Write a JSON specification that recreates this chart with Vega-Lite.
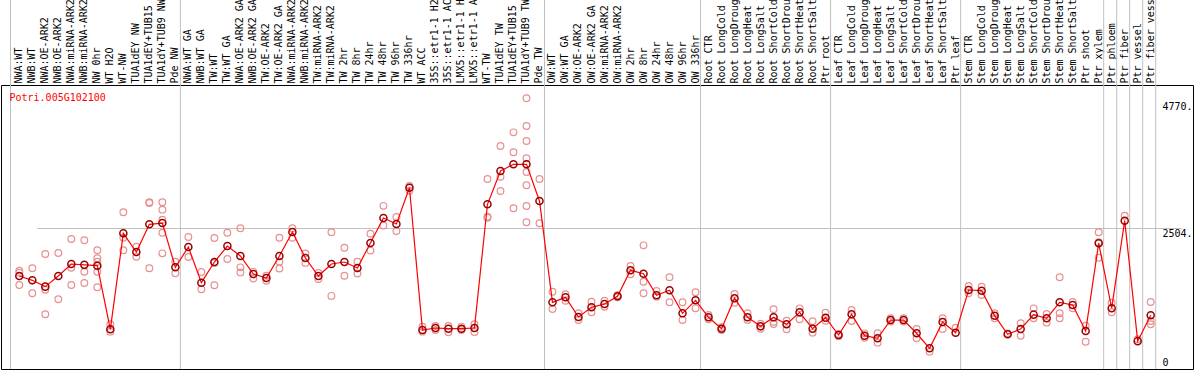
{
  "$schema": "https://vega.github.io/schema/vega-lite/v6.json",
  "width": 1192,
  "height": 284,
  "autosize": {"type": "none"},
  "padding": {"left": 1, "right": 1, "top": 85, "bottom": 1},
  "background": "white",
  "title": {"text": "Potri.005G102100", "orient": "bottom", "anchor": "start", "frame": "group", "offset": 0, "baseline": "top", "dx": 8.5, "dy": -277, "color": "#ff0000", "font": "DejaVu Sans Mono", "fontSize": 10, "fontWeight": "normal"},
  "config": {
    "view": {"stroke": "black", "strokeWidth": 1},
    "axis": {"labelFont": "DejaVu Sans Mono", "labelFontSize": 10, "labelColor": "black"}
  },
  "datasets": {
    "samples": [
      {"i": 1, "name": "NWA:WT", "v": 1645},
      {"i": 2, "name": "NWB:WT", "v": 1568},
      {"i": 3, "name": "NWA:OE-ARK2", "v": 1455},
      {"i": 4, "name": "NWB:OE-ARK2", "v": 1645},
      {"i": 5, "name": "NWA:miRNA-ARK2", "v": 1860},
      {"i": 6, "name": "NWB:miRNA-ARK2", "v": 1845},
      {"i": 7, "name": "NW 0hr", "v": 1830},
      {"i": 8, "name": "WT H2O", "v": 692},
      {"i": 9, "name": "WT-NW", "v": 2409},
      {"i": 10, "name": "TUA1dEY NW", "v": 2075},
      {"i": 11, "name": "TUA1dEY+TUB15", "v": 2570},
      {"i": 12, "name": "TUA1dY+TUB9 NW", "v": 2593},
      {"i": 13, "name": "Pde NW", "v": 1801},
      {"i": 14, "name": "NWA:WT GA", "v": 2164},
      {"i": 15, "name": "NWB:WT GA", "v": 1526},
      {"i": 16, "name": "TW:WT", "v": 1896},
      {"i": 17, "name": "TW:WT GA", "v": 2182},
      {"i": 18, "name": "NWA:OE-ARK2 GA", "v": 2003},
      {"i": 19, "name": "NWB:OE-ARK2 GA", "v": 1681},
      {"i": 20, "name": "TW:OE-ARK2", "v": 1610},
      {"i": 21, "name": "TW:OE-ARK2 GA", "v": 2003},
      {"i": 22, "name": "NWA:miRNA-ARK2 ", "v": 2432},
      {"i": 23, "name": "NWB:miRNA-ARK2 ", "v": 1967},
      {"i": 24, "name": "TW:miRNA-ARK2", "v": 1645},
      {"i": 25, "name": "TW:miRNA-ARK2 ", "v": 1860},
      {"i": 26, "name": "TW 2hr", "v": 1896},
      {"i": 27, "name": "TW 8hr", "v": 1789},
      {"i": 28, "name": "TW 24hr", "v": 2236},
      {"i": 29, "name": "TW 48hr", "v": 2683},
      {"i": 30, "name": "TW 96hr", "v": 2576},
      {"i": 31, "name": "TW 336hr", "v": 3225},
      {"i": 32, "name": "WT ACC", "v": 680},
      {"i": 33, "name": "35S::etr1-1 H2", "v": 715},
      {"i": 34, "name": "35S::etr1-1 AC", "v": 703},
      {"i": 35, "name": "LMX5::etr1-1 H", "v": 703},
      {"i": 36, "name": "LMX5::etr1-1 A", "v": 715},
      {"i": 37, "name": "WT-TW", "v": 2928},
      {"i": 38, "name": "TUA1dEY TW", "v": 3524},
      {"i": 39, "name": "TUA1dEY+TUB15 ", "v": 3643},
      {"i": 40, "name": "TUA1dY+TUB9 TW", "v": 3643},
      {"i": 41, "name": "Pde TW", "v": 2987},
      {"i": 42, "name": "OW:WT", "v": 1175},
      {"i": 43, "name": "OW:WT GA", "v": 1264},
      {"i": 44, "name": "OW:OE-ARK2", "v": 912},
      {"i": 45, "name": "OW:OE-ARK2 GA", "v": 1085},
      {"i": 46, "name": "OW:miRNA-ARK2", "v": 1145},
      {"i": 47, "name": "OW:miRNA-ARK2 ", "v": 1282},
      {"i": 48, "name": "OW 2hr", "v": 1747},
      {"i": 49, "name": "OW 8hr", "v": 1686},
      {"i": 50, "name": "OW 24hr", "v": 1300},
      {"i": 51, "name": "OW 48hr", "v": 1390},
      {"i": 52, "name": "OW 96hr", "v": 978},
      {"i": 53, "name": "OW 336hr", "v": 1211},
      {"i": 54, "name": "Root CTR", "v": 907},
      {"i": 55, "name": "Root LongCold", "v": 703},
      {"i": 56, "name": "Root LongDroug", "v": 1246},
      {"i": 57, "name": "Root LongHeat", "v": 907},
      {"i": 58, "name": "Root LongSalt", "v": 745},
      {"i": 59, "name": "Root ShortCold", "v": 907},
      {"i": 60, "name": "Root ShortDrou", "v": 781},
      {"i": 61, "name": "Root ShortHeat", "v": 996},
      {"i": 62, "name": "Root ShortSalt", "v": 703},
      {"i": 63, "name": "Ptr root", "v": 900},
      {"i": 64, "name": "Leaf CTR", "v": 590},
      {"i": 65, "name": "Leaf LongCold", "v": 960},
      {"i": 66, "name": "Leaf LongDroug", "v": 578},
      {"i": 67, "name": "Leaf LongHeat", "v": 531},
      {"i": 68, "name": "Leaf LongSalt", "v": 858},
      {"i": 69, "name": "Leaf ShortCold", "v": 858},
      {"i": 70, "name": "Leaf ShortDrou", "v": 621},
      {"i": 71, "name": "Leaf ShortHeat", "v": 352},
      {"i": 72, "name": "Leaf ShortSalt", "v": 823},
      {"i": 73, "name": "Ptr leaf", "v": 632},
      {"i": 74, "name": "Stem CTR", "v": 1395},
      {"i": 75, "name": "Stem LongCold", "v": 1383},
      {"i": 76, "name": "Stem LongDroug", "v": 936},
      {"i": 77, "name": "Stem LongHeat", "v": 602},
      {"i": 78, "name": "Stem LongSalt", "v": 698},
      {"i": 79, "name": "Stem ShortCold", "v": 954},
      {"i": 80, "name": "Stem ShortDrou", "v": 889},
      {"i": 81, "name": "Stem ShortHeat", "v": 1175},
      {"i": 82, "name": "Stem ShortSalt", "v": 1127},
      {"i": 83, "name": "Ptr shoot", "v": 662},
      {"i": 84, "name": "Ptr xylem", "v": 2232},
      {"i": 85, "name": "Ptr phloem", "v": 1070},
      {"i": 86, "name": "Ptr fiber", "v": 2635},
      {"i": 87, "name": "Ptr vessel", "v": 480},
      {"i": 88, "name": "Ptr fiber vess", "v": 945}
    ],
    "reps": [
      {"i": 1, "v": 1741}, {"i": 1, "v": 1705}, {"i": 1, "v": 1485},
      {"i": 2, "v": 1783}, {"i": 2, "v": 1336},
      {"i": 3, "v": 2039}, {"i": 3, "v": 1400}, {"i": 3, "v": 960},
      {"i": 4, "v": 2057}, {"i": 4, "v": 1229},
      {"i": 5, "v": 2307}, {"i": 5, "v": 1794}, {"i": 5, "v": 1485},
      {"i": 6, "v": 2284}, {"i": 6, "v": 1722}, {"i": 6, "v": 1520},
      {"i": 7, "v": 2105}, {"i": 7, "v": 1962}, {"i": 7, "v": 1901}, {"i": 7, "v": 1722}, {"i": 7, "v": 1443},
      {"i": 8, "v": 782}, {"i": 8, "v": 650},
      {"i": 9, "v": 2785}, {"i": 9, "v": 2331}, {"i": 9, "v": 2105},
      {"i": 10, "v": 2170}, {"i": 10, "v": 1991},
      {"i": 11, "v": 2964}, {"i": 11, "v": 2951}, {"i": 11, "v": 1783},
      {"i": 12, "v": 2964}, {"i": 12, "v": 2832}, {"i": 12, "v": 2653}, {"i": 12, "v": 2420}, {"i": 12, "v": 2051},
      {"i": 13, "v": 1901}, {"i": 13, "v": 1694},
      {"i": 14, "v": 2343}, {"i": 14, "v": 1985},
      {"i": 15, "v": 1717}, {"i": 15, "v": 1408},
      {"i": 16, "v": 2325}, {"i": 16, "v": 1880}, {"i": 16, "v": 1480},
      {"i": 17, "v": 2420}, {"i": 17, "v": 1950},
      {"i": 18, "v": 2500}, {"i": 18, "v": 1800}, {"i": 18, "v": 1710},
      {"i": 19, "v": 1720}, {"i": 19, "v": 1600},
      {"i": 20, "v": 1650}, {"i": 20, "v": 1560},
      {"i": 21, "v": 2330}, {"i": 21, "v": 1900}, {"i": 21, "v": 1780},
      {"i": 22, "v": 2500}, {"i": 22, "v": 2330},
      {"i": 23, "v": 2050}, {"i": 23, "v": 1880},
      {"i": 24, "v": 1700}, {"i": 24, "v": 1590},
      {"i": 25, "v": 2430}, {"i": 25, "v": 1290},
      {"i": 26, "v": 2150}, {"i": 26, "v": 1650},
      {"i": 27, "v": 1900}, {"i": 27, "v": 1690},
      {"i": 28, "v": 2400}, {"i": 28, "v": 2100},
      {"i": 29, "v": 2900}, {"i": 29, "v": 2550},
      {"i": 30, "v": 2700}, {"i": 30, "v": 2450},
      {"i": 31, "v": 3255}, {"i": 31, "v": 3171},
      {"i": 32, "v": 739}, {"i": 32, "v": 650},
      {"i": 33, "v": 750}, {"i": 33, "v": 680},
      {"i": 34, "v": 750}, {"i": 34, "v": 640},
      {"i": 35, "v": 740}, {"i": 35, "v": 680},
      {"i": 36, "v": 782}, {"i": 36, "v": 644},
      {"i": 37, "v": 3380}, {"i": 37, "v": 2706}, {"i": 37, "v": 2688},
      {"i": 38, "v": 3971}, {"i": 38, "v": 3422}, {"i": 38, "v": 3166},
      {"i": 39, "v": 4215}, {"i": 39, "v": 3858}, {"i": 39, "v": 2856},
      {"i": 40, "v": 4824}, {"i": 40, "v": 4328}, {"i": 40, "v": 4060}, {"i": 40, "v": 3751}, {"i": 40, "v": 3506}, {"i": 40, "v": 3268}, {"i": 40, "v": 2898}, {"i": 40, "v": 2606},
      {"i": 41, "v": 3380}, {"i": 41, "v": 2588},
      {"i": 42, "v": 1365}, {"i": 42, "v": 1055},
      {"i": 43, "v": 1318}, {"i": 43, "v": 1204},
      {"i": 44, "v": 978}, {"i": 44, "v": 858},
      {"i": 45, "v": 1186}, {"i": 45, "v": 996},
      {"i": 46, "v": 1204}, {"i": 46, "v": 1096},
      {"i": 47, "v": 1300}, {"i": 47, "v": 1265},
      {"i": 48, "v": 1824}, {"i": 48, "v": 1676},
      {"i": 49, "v": 2194}, {"i": 49, "v": 1544}, {"i": 49, "v": 1336},
      {"i": 50, "v": 1377}, {"i": 50, "v": 1276},
      {"i": 51, "v": 1622}, {"i": 51, "v": 1175},
      {"i": 52, "v": 1175}, {"i": 52, "v": 858},
      {"i": 53, "v": 1354}, {"i": 53, "v": 1067},
      {"i": 54, "v": 950}, {"i": 54, "v": 870},
      {"i": 55, "v": 680}, {"i": 55, "v": 730},
      {"i": 56, "v": 1324}, {"i": 56, "v": 1168},
      {"i": 57, "v": 978}, {"i": 57, "v": 858},
      {"i": 58, "v": 790}, {"i": 58, "v": 700},
      {"i": 59, "v": 1050}, {"i": 59, "v": 828}, {"i": 59, "v": 787},
      {"i": 60, "v": 846}, {"i": 60, "v": 692},
      {"i": 61, "v": 1067}, {"i": 61, "v": 871},
      {"i": 62, "v": 835}, {"i": 62, "v": 632},
      {"i": 63, "v": 990}, {"i": 63, "v": 846},
      {"i": 64, "v": 610}, {"i": 64, "v": 570},
      {"i": 65, "v": 1037}, {"i": 65, "v": 841},
      {"i": 66, "v": 620}, {"i": 66, "v": 540},
      {"i": 67, "v": 621}, {"i": 67, "v": 453},
      {"i": 68, "v": 890}, {"i": 68, "v": 830},
      {"i": 69, "v": 890}, {"i": 69, "v": 830},
      {"i": 70, "v": 698}, {"i": 70, "v": 531},
      {"i": 71, "v": 292},
      {"i": 72, "v": 889}, {"i": 72, "v": 698},
      {"i": 73, "v": 721},
      {"i": 74, "v": 1467}, {"i": 74, "v": 1336},
      {"i": 75, "v": 1455}, {"i": 75, "v": 1306},
      {"i": 76, "v": 980}, {"i": 76, "v": 890},
      {"i": 77, "v": 620},
      {"i": 78, "v": 799}, {"i": 78, "v": 578},
      {"i": 79, "v": 1067}, {"i": 79, "v": 889},
      {"i": 80, "v": 966}, {"i": 80, "v": 811},
      {"i": 81, "v": 1622}, {"i": 81, "v": 978}, {"i": 81, "v": 889},
      {"i": 82, "v": 1180}, {"i": 82, "v": 1070},
      {"i": 83, "v": 757}, {"i": 83, "v": 470},
      {"i": 84, "v": 2427}, {"i": 84, "v": 2248}, {"i": 84, "v": 1973},
      {"i": 85, "v": 1168}, {"i": 85, "v": 996},
      {"i": 86, "v": 2724},
      {"i": 87, "v": 513},
      {"i": 88, "v": 1180}, {"i": 88, "v": 841}, {"i": 88, "v": 782}
    ],
    "separators": [
      {"i": 1, "edge": "start"},
      {"i": 13, "edge": "end"},
      {"i": 41, "edge": "end"},
      {"i": 53, "edge": "end"},
      {"i": 63, "edge": "end"},
      {"i": 73, "edge": "end"},
      {"i": 84, "edge": "end"},
      {"i": 85, "edge": "end"},
      {"i": 86, "edge": "end"},
      {"i": 87, "edge": "end"},
      {"i": 88, "edge": "end"}
    ]
  },
  "layer": [
    {
      "data": {"name": "separators"},
      "transform": [
        {"filter": "datum.edge == 'end'"},
        {"lookup": "i", "from": {"data": {"name": "samples"}, "key": "i", "fields": ["name"]}}
      ],
      "mark": {"type": "rule", "color": "#c0c0c0", "strokeWidth": 1},
      "encoding": {
        "x": {"field": "name", "type": "nominal", "sort": {"field": "i", "op": "min"}, "bandPosition": 0.885, "title": null},
        "y": {"datum": -18, "type": "quantitative"},
        "y2": {"datum": 6600}
      }
    },
    {
      "data": {"name": "separators"},
      "transform": [
        {"filter": "datum.edge == 'start'"},
        {"lookup": "i", "from": {"data": {"name": "samples"}, "key": "i", "fields": ["name"]}}
      ],
      "mark": {"type": "rule", "color": "#c0c0c0", "strokeWidth": 1},
      "encoding": {
        "x": {"field": "name", "type": "nominal", "sort": {"field": "i", "op": "min"}, "bandPosition": -0.177, "title": null},
        "y": {"datum": -18, "type": "quantitative"},
        "y2": {"datum": 6600}
      }
    },
    {
      "data": {"name": "reps"},
      "transform": [
        {"lookup": "i", "from": {"data": {"name": "samples"}, "key": "i", "fields": ["name"]}}
      ],
      "mark": {"type": "point", "filled": false, "shape": "circle", "size": 45, "stroke": "#e89090", "strokeWidth": 1.2, "opacity": 1},
      "encoding": {
        "x": {"field": "name", "type": "nominal", "sort": {"field": "i", "op": "min"}, "title": null},
        "y": {"field": "v", "type": "quantitative", "title": null}
      }
    },
    {
      "data": {"name": "samples"},
      "mark": {"type": "line", "color": "#ff0000", "strokeWidth": 1.2},
      "encoding": {
        "x": {
          "field": "name", "type": "nominal", "sort": {"field": "i", "op": "min"}, "title": null,
          "scale": {"type": "band", "paddingInner": 0, "paddingOuter": 0, "range": [11.8, 1156.2]},
          "axis": {"orient": "top", "labelAngle": -90, "labelAlign": "left", "labelBaseline": "middle", "labelPadding": 2, "ticks": false, "domain": false, "grid": false, "labelLimit": 0, "labelOverlap": false, "labelFlush": false}
        },
        "y": {
          "field": "v", "type": "quantitative", "title": null,
          "scale": {"domain": [-18, 5062], "nice": false, "zero": false},
          "axis": {"orient": "right", "values": [0, 2504, 4770], "labelExpr": "datum.value == 0 ? '0' : datum.value + '.'", "ticks": false, "domain": false, "labelAlign": "left", "labelPadding": -31, "labelFlush": false, "labelOverlap": false, "labelBaseline": {"condition": {"test": "datum.value == 0", "value": "bottom"}, "value": "top"}, "grid": true, "gridColor": "#c0c0c0", "gridWidth": 1, "gridOpacity": {"condition": {"test": "datum.value == 2504", "value": 1}, "value": 0}}
        }
      }
    },
    {
      "data": {"name": "samples"},
      "mark": {"type": "point", "filled": false, "shape": "circle", "size": 50, "stroke": "#9a0000", "strokeWidth": 1.5, "opacity": 1},
      "encoding": {
        "x": {"field": "name", "type": "nominal", "sort": {"field": "i", "op": "min"}, "title": null},
        "y": {"field": "v", "type": "quantitative", "title": null}
      }
    }
  ]
}
